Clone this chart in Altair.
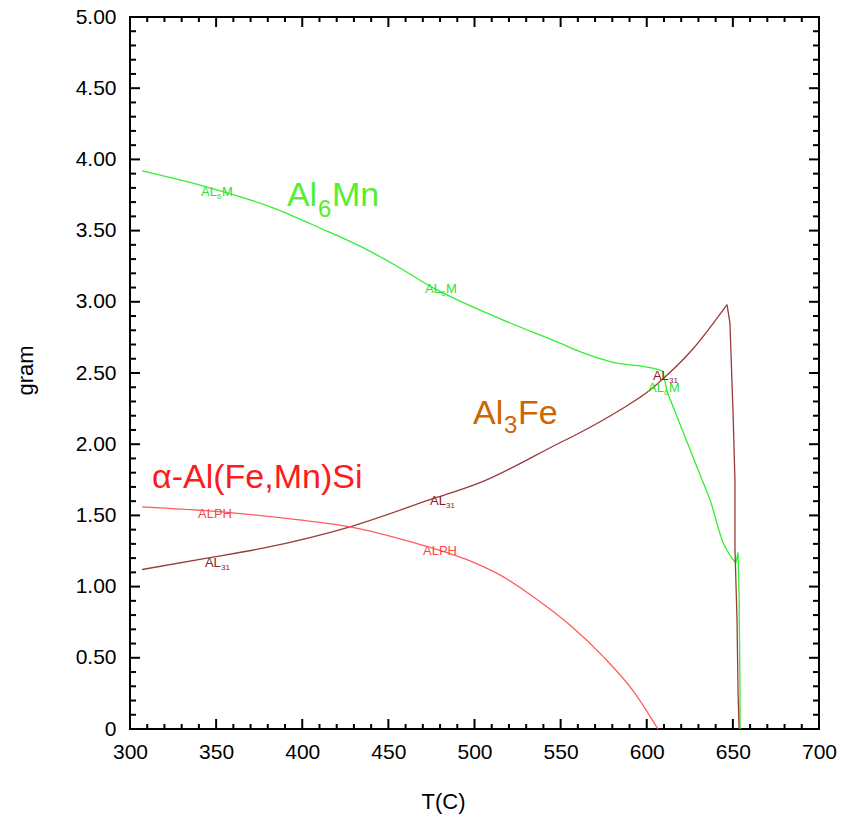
import altair as alt
import pandas as pd
import numpy as np

# ---- data ----
al6mn_T = [307.0, 340.6, 383.0, 410.0, 435.3, 455.0, 474.2, 515.0, 549.6, 561.2, 578.7, 607.7,
           609.4, 611.8, 632.1, 636.7, 644.3, 650.1, 651.8, 653.0, 653.6, 654.1, 654.2]
al6mn_g = [3.92, 3.82, 3.66, 3.52, 3.38, 3.25, 3.11, 2.88, 2.71, 2.65, 2.58, 2.52,
           2.51, 2.37, 1.75, 1.61, 1.31, 1.19, 1.17, 1.24, 0.93, 0.31, 0.0]

al3fe_T = [307.0, 344.7, 377.2, 427.7, 474.2, 503.2, 549.6, 559.5, 584.5, 601.9, 607.7, 626.9,
           646.6, 648.3, 650.1, 651.2, 651.2, 652.4, 653.0, 653.6]
al3fe_g = [1.12, 1.20, 1.27, 1.42, 1.61, 1.73, 2.01, 2.07, 2.24, 2.38, 2.44, 2.67,
           2.98, 2.85, 2.22, 1.75, 1.27, 0.77, 0.26, 0.0]

alph_T = [307.0, 358.1, 397.0, 427.7, 464.3, 497.4, 516.5, 536.3, 555.4, 574.6, 592.0, 606.5]
alph_g = [1.56, 1.52, 1.47, 1.42, 1.31, 1.18, 1.07, 0.91, 0.73, 0.51, 0.27, 0.0]

x_labels = [300, 350, 400, 450, 500, 550, 600, 650, 700]
y_labels = [0, 0.5, 1.0, 1.5, 2.0, 2.5, 3.0, 3.5, 4.0, 4.5, 5.0]
x_minor = list(range(300, 701, 10))
y_minor = [round(i * 0.1, 1) for i in range(0, 51)]

FONT = "Liberation Sans"
GREEN_LINE = "#33ee33"
BROWN_LINE = "#9b3a3a"
RED_LINE = "#ff5c5c"

W, H = 689, 712

xs = alt.Scale(domain=[300, 700], nice=False, zero=False)
ys = alt.Scale(domain=[0, 5], nice=False, zero=True)

xaxis = alt.Axis(values=x_labels, format="d", labelFont=FONT, labelFontSize=21,
                 labelColor="black", labelPadding=12, ticks=False, domain=False, grid=False,
                 title="T(C)", titleFont=FONT, titleFontSize=22, titleFontWeight="normal",
                 titleColor="black", titleX=313, titleY=72, titleBaseline="middle",
                 titleAlign="center", labelFlush=False)
yaxis = alt.Axis(values=y_labels,
                 labelExpr="datum.value == 0 ? '0' : format(datum.value, '.2f')",
                 labelFont=FONT, labelFontSize=21, labelColor="black", labelPadding=14,
                 ticks=False, domain=False, grid=False,
                 title="gram", titleFont=FONT, titleFontSize=22, titleFontWeight="normal",
                 titleColor="black", titleX=-105, titleY=353, titleAngle=-90,
                 titleBaseline="middle", titleAlign="center")

X = alt.X("T:Q", scale=xs, axis=xaxis)
Y = alt.Y("gram:Q", scale=ys, axis=yaxis)


def line(Ts, gs, color, pieces):
    """pieces: list of (start_index, end_index, interpolate)"""
    out = []
    for a, b, interp in pieces:
        df = pd.DataFrame({"T": Ts[a:b + 1], "gram": gs[a:b + 1], "i": range(b + 1 - a)})
        out.append(alt.Chart(df).mark_line(color=color, strokeWidth=1.3,
                                           interpolate=interp).encode(
            x=X, y=Y, order="i:Q"))
    return out


layers = []
layers += line(al6mn_T, al6mn_g, GREEN_LINE,
               [(0, 12, "monotone"), (12, 13, "linear"), (13, 17, "monotone"),
                (17, len(al6mn_T) - 1, "linear")])
layers += line(al3fe_T, al3fe_g, BROWN_LINE,
               [(0, 12, "monotone"), (12, len(al3fe_T) - 1, "linear")])
layers += line(alph_T, alph_g, RED_LINE, [(0, len(alph_T) - 1, "monotone")])

# inward ticks on all four sides
x_major_df = pd.DataFrame({"T": x_labels})
x_minor_df = pd.DataFrame({"T": [v for v in x_minor if v % 50 != 0]})
y_major_df = pd.DataFrame({"gram": y_labels})
y_minor_df = pd.DataFrame({"gram": [v for v in y_minor if round(v * 10) % 5 != 0]})

for df, L in [(x_major_df, 10), (x_minor_df, 5)]:
    layers.append(alt.Chart(df).mark_rule(color="black", strokeWidth=2).encode(
        x=X, y=alt.value(H), y2=alt.value(H - L)))
    layers.append(alt.Chart(df).mark_rule(color="black", strokeWidth=2).encode(
        x=X, y=alt.value(0), y2=alt.value(L)))
for df, L in [(y_major_df, 10), (y_minor_df, 6)]:
    layers.append(alt.Chart(df).mark_rule(color="black", strokeWidth=2).encode(
        y=Y, x=alt.value(0), x2=alt.value(L)))
    layers.append(alt.Chart(df).mark_rule(color="black", strokeWidth=2).encode(
        y=Y, x=alt.value(W), x2=alt.value(W - L)))


def txt(T, g, text, color, size, dx=0, dy=0):
    df = pd.DataFrame({"T": [T], "gram": [g]})
    return alt.Chart(df).mark_text(text=text, color=color, fontSize=size, font=FONT,
                                   align="left", baseline="alphabetic", dx=dx, dy=dy).encode(
        x=X, y=Y)


# big labels
BIG = 34
SUB = 24
GREEN_TXT = "#55ee33"
ORANGE_TXT = "#cc6600"
RED_TXT = "#ff1a1a"
layers += [txt(391.1, 3.673, "Al", GREEN_TXT, BIG),
           txt(391.1, 3.673, "6", GREEN_TXT, SUB, dx=31, dy=11),
           txt(391.1, 3.673, "Mn", GREEN_TXT, BIG, dx=45)]
layers += [txt(499.1, 2.142, "Al", ORANGE_TXT, BIG),
           txt(499.1, 2.142, "3", ORANGE_TXT, SUB, dx=31, dy=9),
           txt(499.1, 2.142, "Fe", ORANGE_TXT, BIG, dx=45)]
layers += [txt(312.8, 1.692, "α-Al(Fe,Mn)Si", RED_TXT, BIG)]

# small curve labels
SM = 13
SS = 8
G_SM = "#33dd33"
B_SM = "#8b2020"
R_SM = "#ff4545"
for (T, g) in [(341.2, 3.743), (471.3, 3.062), (600.7, 2.367)]:
    layers += [txt(T, g, "AL", G_SM, SM), txt(T, g, "6", G_SM, SS, dx=16, dy=3),
               txt(T, g, "M", G_SM, SM, dx=21)]
for (T, g) in [(603.6, 2.451), (474.2, 1.573), (343.5, 1.138)]:
    layers += [txt(T, g, "AL", B_SM, SM), txt(T, g, "31", B_SM, SS, dx=16, dy=3)]
for (T, g) in [(339.5, 1.482), (470.1, 1.222)]:
    layers += [txt(T, g, "ALPH", R_SM, SM)]

chart = alt.layer(*layers).properties(
    width=W, height=H,
    autosize=alt.AutoSizeParams(type="none"),
    padding={"left": 130, "top": 17, "right": 22, "bottom": 87},
    background="white",
).configure_view(stroke="black", strokeWidth=2)

chart.save("out.html", embed_options={"renderer": "svg", "actions": False})
